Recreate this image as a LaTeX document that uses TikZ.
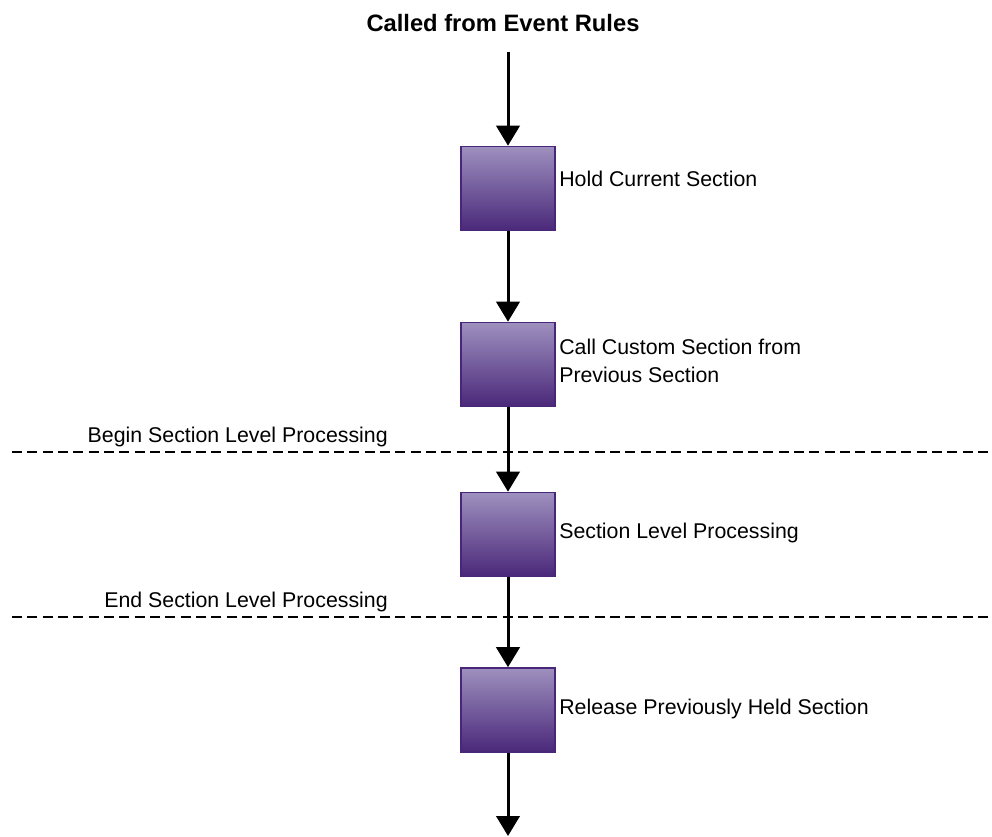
\documentclass[tikz,border=0pt]{standalone}
\usepackage{fontspec}
\setmainfont{Liberation Sans}
\usetikzlibrary{arrows.meta}
\definecolor{boxtop}{RGB}{158,144,190}
\definecolor{boxbot}{RGB}{74,40,122}
\definecolor{boxedge}{RGB}{72,38,120}
\begin{document}
\begin{tikzpicture}[x=0.75pt,y=-0.75pt,
  stepbox/.style={draw=boxedge, line width=1.2pt, top color=boxtop, bottom color=boxbot,
    minimum width=70.5pt, minimum height=63pt, inner sep=0pt},
  flow/.style={line width=2.25pt, -{Triangle[width=17.5pt,length=15pt]}},
  sep/.style={line width=1.5pt, dash pattern=on 7.5pt off 4pt},
  lbl/.style={anchor=west, font=\fontsize{16}{21}\selectfont, align=left, inner sep=0pt},
  seplbl/.style={anchor=south east, font=\fontsize{16}{21}\selectfont, inner sep=0pt}]
\useasboundingbox (0,0) rectangle (992,837);
\node[font=\bfseries\fontsize{17.8}{21}\selectfont] (title) at (503,23) {Called from Event Rules};
\coordinate (s) at (508,52);
\node[stepbox] (b1) at (508,188.5) {};
\node[stepbox] (b2) at (508,364.5) {};
\node[stepbox] (b3) at (508,534.5) {};
\node[stepbox] (b4) at (508,710) {};
\coordinate (e) at (508,836);
\node[lbl] (l1) at (559,179) {Hold Current Section};
\node[lbl] (l2) at (559,361) {Call Custom Section from\\Previous Section};
\node[lbl] (l3) at (559,533) {Section Level Processing};
\node[lbl] (l4) at (559,709) {Release Previously Held Section};
\coordinate (d1a) at (12,452);
\coordinate (d1b) at (992,452);
\coordinate (d2a) at (12,617);
\coordinate (d2b) at (992,617);
\draw[sep] (d1a) -- (d1b);
\draw[sep] (d2a) -- (d2b);
\node[seplbl] (t1) at (388,447) {Begin Section Level Processing};
\node[seplbl] (t2) at (388,612) {End Section Level Processing};
\draw[flow] (s) -- (b1.north);
\draw[flow] (b1.south) -- (b2.north);
\draw[flow] (b2.south) -- (b3.north);
\draw[flow] (b3.south) -- (b4.north);
\draw[flow] (b4.south) -- (e);
\end{tikzpicture}
\end{document}
